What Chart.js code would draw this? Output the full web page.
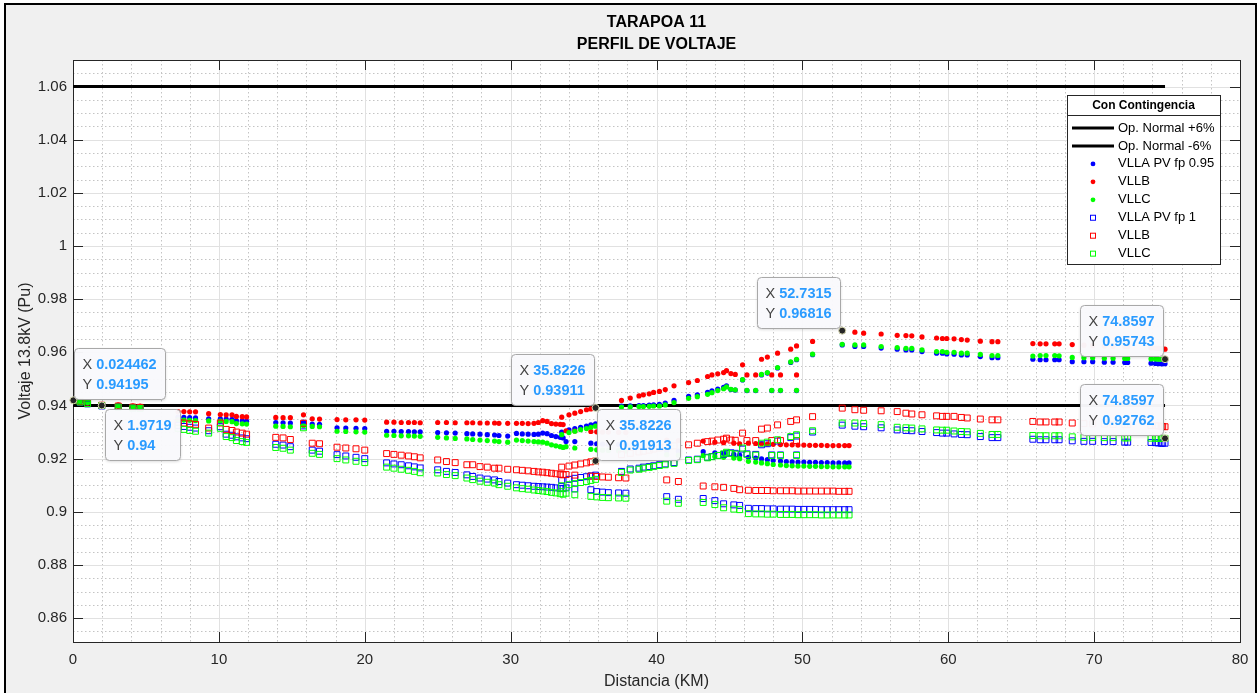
<!DOCTYPE html>
<html>
<head>
<meta charset="utf-8">
<title>TARAPOA 11 - Perfil de voltaje</title>
<script src="https://cdn.jsdelivr.net/npm/chart.js@4.4.1/dist/chart.umd.min.js"></script>
<style>
  html, body { margin: 0; padding: 0; background: #fff; overflow: hidden; }
  #fig { position: absolute; left: 4px; top: 3px; width: 1249px; height: 700px; background: #f0f0f0; border: 2px solid #000; }
  #chart { position: absolute; left: 0; top: 0; }
</style>
</head>
<body>
<div id="fig"></div>
<canvas id="chart" width="1258" height="693"></canvas>
<script>
// distancia de cada nodo (km), agrupado por tramo
const nodeKm = [
  0.024462, 0.5, 1.0, 1.9719, 3.1, 4.1, 4.6,
  7.2, 7.6, 8.0, 8.4,
  9.3,
  10.1, 10.5, 10.9,
  11.2, 11.6, 11.9,
  13.9, 14.4, 14.9,
  15.8, 16.4, 16.9,
  18.1, 18.7, 19.4, 20.0,
  21.5, 22.0, 22.5, 23.0, 23.4, 23.8,
  25.0, 25.6, 26.2, 27.0, 27.4, 27.9, 28.4, 28.9, 29.2, 29.8,
  30.4, 30.8, 31.2, 31.6, 31.9, 32.2, 32.5, 32.8, 33.1, 33.4, 33.6,
  33.5, 34.0, 34.4, 34.8, 35.2, 35.5, 35.8226,
  33.8, 34.4, 35.5, 35.9, 36.3, 36.7, 37.4, 37.9,
  37.6, 38.2, 38.8, 39.1, 39.5, 39.8, 40.2, 40.6, 41.2, 42.2, 42.8, 43.5, 43.8, 44.2, 44.6, 44.8, 45.9, 47.2, 47.6, 48.3, 49.2, 49.6, 50.7, 52.7315,
  45.1, 45.4, 46.2, 46.8, 47.9, 48.5, 49.6,
  40.7, 41.5, 43.2, 44.0, 44.6, 45.3, 45.7,
  46.3, 46.8, 47.2, 47.6, 48.0, 48.5, 48.9, 49.3, 49.7, 50.1, 50.5, 50.9, 51.3, 51.7, 52.1, 52.5, 52.9, 53.2,
  53.6, 54.2, 55.4, 56.5, 57.1, 57.5, 58.2, 59.2, 59.6, 59.9, 60.4, 60.9, 61.3, 62.2, 63.0, 63.4, 65.8, 66.3, 66.7, 67.3, 67.6, 68.5, 69.3, 69.9, 70.7, 71.3, 72.1, 72.3, 73.9, 74.2, 74.4, 74.6, 74.7, 74.8597
];

// PV fp 0.95
const fp95A = [
  0.94195, 0.9414, 0.9409, 0.9400, 0.9398, 0.9396, 0.9395,
  0.9356, 0.9355, 0.9354, 0.9353,
  0.9350,
  0.9350, 0.9349, 0.9348,
  0.9343, 0.9342, 0.9341,
  0.9336, 0.9335, 0.9334,
  0.9337, 0.9330, 0.9329,
  0.9316, 0.9315, 0.9314, 0.9313,
  0.9303, 0.9303, 0.9302, 0.9302, 0.9301, 0.9301,
  0.9298, 0.9297, 0.9296, 0.9294, 0.9293, 0.9292, 0.9290, 0.9289, 0.9287, 0.9285,
  0.9295, 0.9293, 0.9292, 0.9291, 0.9292, 0.9296, 0.9294, 0.9287, 0.9283, 0.9280, 0.9278,
  0.9300, 0.9308, 0.9313, 0.9318, 0.9322, 0.9327, 0.9331,
  0.9264, 0.9264, 0.9258, 0.9256, 0.9255, 0.9254, 0.9253, 0.9252,
  0.9398, 0.9399, 0.9400, 0.9400, 0.9401, 0.9402, 0.9404, 0.9409, 0.9419, 0.9434, 0.9440, 0.9449, 0.9455, 0.9462, 0.9468, 0.9474, 0.9496, 0.9515, 0.9522, 0.9541, 0.9562, 0.9572, 0.9591, 0.9628,
  0.9460, 0.9458, 0.9456, 0.9456, 0.9456, 0.9456, 0.9456,
  0.9230, 0.9228, 0.9226, 0.9222, 0.9219, 0.9216, 0.9213,
  0.9205, 0.9202, 0.9199, 0.9196, 0.9193, 0.9191, 0.9189, 0.9188, 0.9187, 0.9187, 0.9186, 0.9186, 0.9185, 0.9185, 0.9184, 0.9184, 0.9184, 0.9184,
  0.9622, 0.9622, 0.9616, 0.9612, 0.9609, 0.9609, 0.9603, 0.9597, 0.9597, 0.9594, 0.9593, 0.9590, 0.9590, 0.9584, 0.9580, 0.9580, 0.9574, 0.9572, 0.9572, 0.9572, 0.9572, 0.9565, 0.9565, 0.9565, 0.9563, 0.9563, 0.9562, 0.9562, 0.9559, 0.9558, 0.9557, 0.9557, 0.9557, 0.9557
];
const fp95B = [
  0.94195, 0.9416, 0.9412, 0.9404, 0.9402, 0.9399, 0.9398,
  0.9377, 0.9377, 0.9376, 0.9376,
  0.9369,
  0.9366, 0.9365, 0.9365,
  0.9359, 0.9358, 0.9357,
  0.9355, 0.9354, 0.9354,
  0.9365, 0.9350, 0.9349,
  0.9347, 0.9346, 0.9346, 0.9345,
  0.9337, 0.9337, 0.9336, 0.9336, 0.9336, 0.9335,
  0.9336, 0.9336, 0.9335, 0.9335, 0.9335, 0.9334, 0.9334, 0.9334, 0.9333, 0.9333,
  0.9333, 0.9333, 0.9332, 0.9333, 0.9336, 0.9343, 0.9340, 0.9332, 0.9330, 0.9329, 0.9328,
  0.9356, 0.9365, 0.9371, 0.9377, 0.9384, 0.9387, 0.93911,
  0.9305, 0.9304, 0.9302, 0.9301, 0.9300, 0.9300, 0.9299, 0.9298,
  0.9419, 0.9428, 0.9436, 0.9440, 0.9444, 0.9449, 0.9453, 0.9460, 0.9474, 0.9486, 0.9494, 0.9509, 0.9515, 0.9519, 0.9524, 0.9531, 0.9553, 0.9574, 0.9582, 0.9597, 0.9612, 0.9624, 0.9641, 0.96816,
  0.9520, 0.9517, 0.9515, 0.9515, 0.9515, 0.9515, 0.9515,
  0.9270, 0.9268, 0.9266, 0.9262, 0.9260, 0.9258, 0.9256,
  0.9258, 0.9257, 0.9256, 0.9255, 0.9254, 0.9253, 0.9252, 0.9252, 0.9251, 0.9251, 0.9250, 0.9250, 0.9250, 0.9249, 0.9249, 0.9249, 0.9249, 0.9249,
  0.9676, 0.9672, 0.9669, 0.9664, 0.9663, 0.9662, 0.9658, 0.9654, 0.9652, 0.9652, 0.9651, 0.9648, 0.9646, 0.9642, 0.9640, 0.9640, 0.9633, 0.9632, 0.9632, 0.9632, 0.9632, 0.9629, 0.9627, 0.9626, 0.9624, 0.9623, 0.9621, 0.9621, 0.9617, 0.9616, 0.9615, 0.9614, 0.9613, 0.9612
];
const fp95C = [
  0.94195, 0.9415, 0.9410, 0.9400, 0.9397, 0.9395, 0.9394,
  0.9346, 0.9345, 0.9344, 0.9343,
  0.9342,
  0.9341, 0.9340, 0.9339,
  0.9332, 0.9331, 0.9330,
  0.9322, 0.9321, 0.9320,
  0.9324, 0.9321, 0.9320,
  0.9303, 0.9302, 0.9301, 0.9300,
  0.9288, 0.9287, 0.9286, 0.9286, 0.9285, 0.9284,
  0.9280, 0.9278, 0.9276, 0.9274, 0.9272, 0.9270, 0.9268, 0.9266, 0.9264, 0.9262,
  0.9270, 0.9268, 0.9266, 0.9264, 0.9263, 0.9262, 0.9258, 0.9252, 0.9248, 0.9245, 0.9242,
  0.9290, 0.9298, 0.9303, 0.9309, 0.9313, 0.9318, 0.9322,
  0.9245, 0.9240, 0.9235, 0.9233, 0.9232, 0.9231, 0.9230, 0.9229,
  0.9394, 0.9395, 0.9396, 0.9396, 0.9397, 0.9398, 0.9398, 0.9402, 0.9411, 0.9427, 0.9433, 0.9442, 0.9448, 0.9456, 0.9463, 0.9470, 0.9497, 0.9517, 0.9524, 0.9543, 0.9564, 0.9574, 0.9593, 0.9630,
  0.9461, 0.9459, 0.9457, 0.9457, 0.9457, 0.9457, 0.9457,
  0.9215, 0.9213, 0.9211, 0.9208, 0.9205, 0.9202, 0.9200,
  0.9190, 0.9187, 0.9184, 0.9181, 0.9178, 0.9176, 0.9174, 0.9173, 0.9172, 0.9172, 0.9171, 0.9171, 0.9170, 0.9170, 0.9169, 0.9169, 0.9169, 0.9169,
  0.9628, 0.9628, 0.9622, 0.9618, 0.9615, 0.9615, 0.9609, 0.9603, 0.9603, 0.9600, 0.9600, 0.9597, 0.9597, 0.9592, 0.9588, 0.9588, 0.9586, 0.9588, 0.9588, 0.9588, 0.9587, 0.9581, 0.9580, 0.9580, 0.9578, 0.9578, 0.9577, 0.9577, 0.9575, 0.9575, 0.9574, 0.9574, 0.9574, 0.95743
];

// PV fp 1
const fp1A = [
  0.94195, 0.9412, 0.9406, 0.9398, 0.9395, 0.9391, 0.9390,
  0.9325, 0.9321, 0.9318, 0.9315,
  0.9305,
  0.9320, 0.9292, 0.9288,
  0.9282, 0.9278, 0.9275,
  0.9254, 0.9251, 0.9245,
  0.9323, 0.9232, 0.9228,
  0.9215, 0.9210, 0.9205, 0.9200,
  0.9184, 0.9180, 0.9177, 0.9173, 0.9169, 0.9165,
  0.9158, 0.9152, 0.9148, 0.9139, 0.9133, 0.9127, 0.9123, 0.9120, 0.9114, 0.9108,
  0.9102, 0.9100, 0.9098, 0.9096, 0.9095, 0.9094, 0.9093, 0.9092, 0.9090, 0.9088, 0.9087,
  0.9118, 0.9122, 0.9126, 0.9129, 0.9132, 0.9135, 0.9138,
  0.9090, 0.9086, 0.9083, 0.9076, 0.9074, 0.9072, 0.9071, 0.9070,
  0.9152, 0.9161, 0.9164, 0.9168, 0.9170, 0.9173, 0.9177, 0.9180, 0.9185, 0.9195, 0.9198, 0.9205, 0.9208, 0.9212, 0.9216, 0.9220, 0.9236, 0.9252, 0.9256, 0.9266, 0.9279, 0.9285, 0.9300, 0.9326,
  0.9222, 0.9220, 0.9218, 0.9216, 0.9214, 0.9214, 0.9214,
  0.9057, 0.9047, 0.9050, 0.9042, 0.9030, 0.9026, 0.9024,
  0.9013, 0.9012, 0.9012, 0.9011, 0.9011, 0.9010, 0.9010, 0.9010, 0.9009, 0.9009, 0.9009, 0.9009, 0.9008, 0.9008, 0.9008, 0.9008, 0.9008, 0.9008,
  0.9322, 0.9320, 0.9316, 0.9308, 0.9306, 0.9305, 0.9302, 0.9298, 0.9296, 0.9296, 0.9293, 0.9291, 0.9290, 0.9283, 0.9279, 0.9279, 0.9273, 0.9271, 0.9271, 0.9271, 0.9271, 0.9267, 0.9265, 0.9265, 0.9264, 0.9264, 0.9262, 0.9262, 0.9261, 0.9260, 0.9259, 0.9258, 0.9258, 0.9258
];
const fp1B = [
  0.94195, 0.9414, 0.9409, 0.9401, 0.9398, 0.9394, 0.9393,
  0.9337, 0.9334, 0.9331, 0.9329,
  0.9315,
  0.9334, 0.9310, 0.9306,
  0.9300, 0.9296, 0.9292,
  0.9280, 0.9278, 0.9272,
  0.9333, 0.9258, 0.9256,
  0.9243, 0.9240, 0.9237, 0.9232,
  0.9219, 0.9216, 0.9213, 0.9210, 0.9207, 0.9203,
  0.9195, 0.9189, 0.9185, 0.9177, 0.9177, 0.9170, 0.9168, 0.9164, 0.9164, 0.9160,
  0.9158, 0.9156, 0.9154, 0.9152, 0.9150, 0.9149, 0.9147, 0.9145, 0.9143, 0.9141, 0.9139,
  0.9168, 0.9172, 0.9176, 0.9180, 0.9184, 0.9188, 0.91913,
  0.9140, 0.9138, 0.9134, 0.9133, 0.9131, 0.9130, 0.9128, 0.9127,
  0.9215, 0.9220, 0.9225, 0.9228, 0.9232, 0.9236, 0.9240, 0.9244, 0.9248, 0.9252, 0.9258, 0.9264, 0.9266, 0.9270, 0.9273, 0.9277, 0.9296, 0.9311, 0.9315, 0.9327, 0.9340, 0.9346, 0.9358, 0.9390,
  0.9270, 0.9269, 0.9268, 0.9268, 0.9268, 0.9268, 0.9268,
  0.9120, 0.9114, 0.9097, 0.9094, 0.9092, 0.9088, 0.9083,
  0.9081, 0.9080, 0.9080, 0.9080, 0.9079, 0.9079, 0.9079, 0.9079, 0.9078, 0.9078, 0.9078, 0.9078, 0.9078, 0.9078, 0.9078, 0.9077, 0.9077, 0.9077,
  0.9384, 0.9382, 0.9380, 0.9377, 0.9371, 0.9368, 0.9365, 0.9361, 0.9359, 0.9359, 0.9359, 0.9355, 0.9353, 0.9349, 0.9346, 0.9346, 0.9340, 0.9338, 0.9338, 0.9338, 0.9338, 0.9334, 0.9332, 0.9331, 0.9330, 0.9329, 0.9328, 0.9328, 0.9325, 0.9324, 0.9323, 0.9322, 0.9321, 0.9320
];
const fp1C = [
  0.94195, 0.9413, 0.9407, 0.9400, 0.9394, 0.9390, 0.9389,
  0.9314, 0.9310, 0.9306, 0.9303,
  0.9296,
  0.9314, 0.9283, 0.9279,
  0.9268, 0.9264, 0.9261,
  0.9242, 0.9239, 0.9232,
  0.9316, 0.9220, 0.9216,
  0.9200, 0.9195, 0.9190, 0.9185,
  0.9168, 0.9164, 0.9160, 0.9156, 0.9152, 0.9147,
  0.9146, 0.9140, 0.9136, 0.9127, 0.9121, 0.9115, 0.9111, 0.9108, 0.9102, 0.9096,
  0.9090, 0.9087, 0.9085, 0.9082, 0.9080, 0.9078, 0.9076, 0.9073, 0.9071, 0.9068, 0.9066,
  0.9098, 0.9102, 0.9106, 0.9110, 0.9114, 0.9118, 0.9122,
  0.9070, 0.9064, 0.9058, 0.9056, 0.9054, 0.9053, 0.9052, 0.9051,
  0.9148, 0.9157, 0.9160, 0.9164, 0.9167, 0.9170, 0.9174, 0.9177, 0.9182, 0.9193, 0.9196, 0.9203, 0.9207, 0.9212, 0.9218, 0.9224, 0.9240, 0.9258, 0.9262, 0.9271, 0.9283, 0.9290, 0.9305, 0.9334,
  0.9219, 0.9217, 0.9215, 0.9213, 0.9212, 0.9212, 0.9212,
  0.9040, 0.9032, 0.9035, 0.9027, 0.9015, 0.9010, 0.9008,
  0.8993, 0.8992, 0.8992, 0.8991, 0.8991, 0.8990, 0.8990, 0.8990, 0.8989, 0.8989, 0.8989, 0.8989, 0.8988, 0.8988, 0.8988, 0.8988, 0.8988, 0.8988,
  0.9334, 0.9332, 0.9328, 0.9318, 0.9316, 0.9315, 0.9312, 0.9308, 0.9307, 0.9307, 0.9304, 0.9302, 0.9301, 0.9295, 0.9291, 0.9291, 0.9287, 0.9286, 0.9286, 0.9286, 0.9286, 0.9282, 0.9280, 0.9280, 0.9279, 0.9279, 0.9278, 0.9278, 0.9277, 0.9277, 0.9276, 0.9276, 0.9276, 0.92762
];

// limites de operacion normal (+/-6%)
const limitKm = [0, 74.86];
const limitHigh = 1.06;
const limitLow = 0.94;

// data tips
const tipKm = [0.024462, 1.9719, 35.8226, 35.8226, 52.7315, 74.8597, 74.8597];
const tipVolt = [0.94195, 0.94, 0.93911, 0.91913, 0.96816, 0.95743, 0.92762];
const tipSide = ['ur', 'dr', 'ul', 'ur', 'ul', 'ul', 'ul'];

[fp95A, fp95B, fp95C, fp1A, fp1B, fp1C].forEach((s, i) => {
  if (s.length !== nodeKm.length) console.error('serie ' + i + ' tiene ' + s.length + ' valores');
});

const FONT = '"Liberation Sans", Arial, Helvetica, sans-serif';
const AX = '#262626';
Chart.defaults.font.family = FONT;

const pts = vals => nodeKm.map((km, i) => ({ x: km, y: vals[i] }));
const limitPts = v => limitKm.map(km => ({ x: km, y: v }));

const series = [
  { label: 'Op. Normal +6%', kind: 'line', data: limitPts(limitHigh) },
  { label: 'Op. Normal -6%', kind: 'line', data: limitPts(limitLow) },
  { label: 'VLLA PV fp 0.95', kind: 'dot', color: '#0000ff', data: pts(fp95A) },
  { label: 'VLLB', kind: 'dot', color: '#ff0000', data: pts(fp95B) },
  { label: 'VLLC', kind: 'dot', color: '#00ff00', data: pts(fp95C) },
  { label: 'VLLA PV fp 1', kind: 'sq', color: '#0000ff', data: pts(fp1A) },
  { label: 'VLLB', kind: 'sq', color: '#ff0000', data: pts(fp1B) },
  { label: 'VLLC', kind: 'sq', color: '#00ff00', data: pts(fp1C) }
];

const datasets = series.map((s, i) => {
  const base = { label: s.label, data: s.data, order: series.length - i };
  if (s.kind === 'line') {
    return Object.assign(base, { showLine: true, borderColor: '#000', borderWidth: 3, pointRadius: 0 });
  }
  if (s.kind === 'dot') {
    return Object.assign(base, { pointStyle: 'circle', pointRadius: 2.6, backgroundColor: s.color, borderColor: s.color, borderWidth: 0 });
  }
  return Object.assign(base, { pointStyle: 'rect', pointRadius: 4.2, backgroundColor: 'rgba(0,0,0,0)', borderColor: s.color, borderWidth: 1 });
});

// rejilla, caja de ejes y marcas hacia adentro (estilo matlab)
const axesFrame = {
  id: 'axesFrame',
  beforeDatasetsDraw(chart) {
    const { ctx, chartArea: a, scales: { x, y } } = chart;
    ctx.save();
    ctx.fillStyle = '#fff';
    ctx.fillRect(a.left, a.top, a.right - a.left, a.bottom - a.top);
    ctx.lineWidth = 1;
    // menor
    ctx.strokeStyle = '#c4c4c4';
    ctx.setLineDash([1.5, 2.5]);
    ctx.beginPath();
    for (let k = 2; k < 80; k += 2) {
      if (k % 10 === 0) continue;
      const px = Math.round(x.getPixelForValue(k)) + 0.5;
      ctx.moveTo(px, a.top); ctx.lineTo(px, a.bottom);
    }
    for (let m = 855; m < 1070; m += 5) {
      if (m % 20 === 0) continue;
      const py = Math.round(y.getPixelForValue(m / 1000)) + 0.5;
      ctx.moveTo(a.left, py); ctx.lineTo(a.right, py);
    }
    ctx.stroke();
    // mayor
    ctx.setLineDash([]);
    ctx.strokeStyle = '#e1e1e1';
    ctx.beginPath();
    for (let k = 10; k < 80; k += 10) {
      const px = Math.round(x.getPixelForValue(k)) + 0.5;
      ctx.moveTo(px, a.top); ctx.lineTo(px, a.bottom);
    }
    for (let m = 860; m <= 1060; m += 20) {
      const py = Math.round(y.getPixelForValue(m / 1000)) + 0.5;
      ctx.moveTo(a.left, py); ctx.lineTo(a.right, py);
    }
    ctx.stroke();
    // marcas
    ctx.strokeStyle = AX;
    ctx.beginPath();
    for (let k = 10; k < 80; k += 10) {
      const px = Math.round(x.getPixelForValue(k)) + 0.5;
      ctx.moveTo(px, a.bottom); ctx.lineTo(px, a.bottom - 10);
      ctx.moveTo(px, a.top); ctx.lineTo(px, a.top + 10);
    }
    for (let m = 860; m <= 1060; m += 20) {
      const py = Math.round(y.getPixelForValue(m / 1000)) + 0.5;
      ctx.moveTo(a.left, py); ctx.lineTo(a.left + 10, py);
      ctx.moveTo(a.right, py); ctx.lineTo(a.right - 10, py);
    }
    ctx.stroke();
    ctx.strokeRect(Math.round(a.left) + 0.5, Math.round(a.top) + 0.5, Math.round(a.right - a.left), Math.round(a.bottom - a.top));
    ctx.restore();
  }
};

function drawMarker(ctx, kind, color, cx, cy) {
  if (kind === 'line') {
    ctx.strokeStyle = '#000'; ctx.lineWidth = 3;
    ctx.beginPath(); ctx.moveTo(cx - 21, cy); ctx.lineTo(cx + 21, cy); ctx.stroke();
  } else if (kind === 'dot') {
    ctx.fillStyle = color;
    ctx.beginPath(); ctx.arc(cx, cy, 2.4, 0, Math.PI * 2); ctx.fill();
  } else {
    ctx.strokeStyle = color; ctx.lineWidth = 1;
    ctx.strokeRect(cx - 2.5, cy - 2.5, 5, 5);
  }
}

function drawTip(ctx, px, py, xv, yv, side) {
  const xs = String(xv), ys = String(yv);
  ctx.font = '14.5px ' + FONT;
  const wX = ctx.measureText('X ').width;
  const wY = ctx.measureText('Y ').width;
  ctx.font = 'bold 14.5px ' + FONT;
  const w = Math.round(Math.max(wX + ctx.measureText(xs).width, wY + ctx.measureText(ys).width) + 17);
  const h = 51;
  let left, top;
  if (side === 'ul') { left = px - 2 - w; top = py - 3 - h; }
  else if (side === 'ur') { left = px + 1; top = py - 1 - h; }
  else { left = px + 3; top = py + 4; }
  left = Math.round(left) + 0.5; top = Math.round(top) + 0.5;

  ctx.fillStyle = '#262626';
  ctx.strokeStyle = '#d8d8b0';
  ctx.lineWidth = 1;
  ctx.beginPath(); ctx.arc(px, py, 3.5, 0, Math.PI * 2); ctx.fill(); ctx.stroke();

  ctx.save();
  ctx.shadowColor = 'rgba(0,0,0,0.18)';
  ctx.shadowBlur = 3;
  ctx.shadowOffsetY = 1;
  ctx.fillStyle = 'rgba(250,250,253,0.97)';
  ctx.beginPath(); ctx.roundRect(left, top, w, h, 4); ctx.fill();
  ctx.restore();
  ctx.strokeStyle = '#a8a8a8';
  ctx.beginPath(); ctx.roundRect(left, top, w, h, 4); ctx.stroke();

  ctx.textBaseline = 'middle';
  ctx.textAlign = 'left';
  ctx.font = '14.5px ' + FONT;
  ctx.fillStyle = '#444';
  ctx.fillText('X', left + 8, top + 16.5);
  ctx.fillText('Y', left + 8, top + 36.5);
  ctx.font = 'bold 14.5px ' + FONT;
  ctx.fillStyle = '#2a9bff';
  ctx.fillText(xs, left + 8 + wX, top + 16.5);
  ctx.fillText(ys, left + 8 + wY, top + 36.5);
}

// titulo, leyenda y data tips
const overlay = {
  id: 'overlay',
  afterDraw(chart) {
    const { ctx, chartArea: a, scales: { x, y } } = chart;
    ctx.save();
    const cx = (a.left + a.right) / 2;
    ctx.fillStyle = '#000';
    ctx.font = 'bold 16px ' + FONT;
    ctx.textAlign = 'center';
    ctx.textBaseline = 'middle';
    ctx.fillText('TARAPOA 11', cx, 23);
    ctx.fillText('PERFIL DE VOLTAJE', cx, 45);

    // leyenda
    const L = a.right - 173, R = a.right - 20, T = a.top + 35, B = a.top + 204;
    ctx.fillStyle = '#fff';
    ctx.fillRect(L, T, R - L, B - T);
    ctx.strokeStyle = AX; ctx.lineWidth = 1;
    ctx.strokeRect(L + 0.5, T + 0.5, R - L, B - T);
    ctx.beginPath(); ctx.moveTo(L, T + 20.5); ctx.lineTo(R, T + 20.5); ctx.stroke();
    ctx.fillStyle = '#000';
    ctx.font = 'bold 12px ' + FONT;
    ctx.fillText('Con Contingencia', (L + R) / 2, T + 11);
    ctx.textAlign = 'left';
    ctx.font = '13px ' + FONT;
    series.forEach((s, i) => {
      const ey = T + 33 + i * 17.95;
      drawMarker(ctx, s.kind, s.color, L + 26, ey);
      ctx.fillStyle = '#000';
      ctx.fillText(s.label, L + 51, ey);
    });

    tipKm.forEach((km, i) => {
      drawTip(ctx, x.getPixelForValue(km), y.getPixelForValue(tipVolt[i]), km, tipVolt[i], tipSide[i]);
    });
    ctx.restore();
  }
};

new Chart(document.getElementById('chart'), {
  type: 'scatter',
  data: { datasets },
  options: {
    responsive: false,
    animation: false,
    devicePixelRatio: 1,
    layout: { padding: { top: 60, right: 18, left: 0, bottom: 0 } },
    plugins: { legend: { display: false }, tooltip: { enabled: false }, title: { display: false } },
    scales: {
      x: {
        type: 'linear', min: 0, max: 80,
        grid: { display: false, drawTicks: false },
        border: { display: false },
        ticks: { stepSize: 10, padding: 9, color: AX, font: { size: 15 }, maxRotation: 0 },
        title: { display: true, text: 'Distancia (KM)', color: AX, font: { size: 16 }, padding: { top: 0, bottom: 1.5 } },
        afterFit: s => { s.height = 51; }
      },
      y: {
        type: 'linear', min: 0.851, max: 1.07,
        grid: { display: false, drawTicks: false },
        border: { display: false },
        ticks: { stepSize: 0.02, includeBounds: false, padding: 6, color: AX, font: { size: 15 },
                 callback: v => String(+v.toFixed(2)) },
        title: { display: true, text: 'Voltaje 13.8kV (Pu)', color: AX, font: { size: 16 }, padding: { top: 15.5, bottom: 0 } },
        afterFit: s => { s.width = 73; }
      }
    }
  },
  plugins: [axesFrame, overlay]
});
</script>
</body>
</html>
